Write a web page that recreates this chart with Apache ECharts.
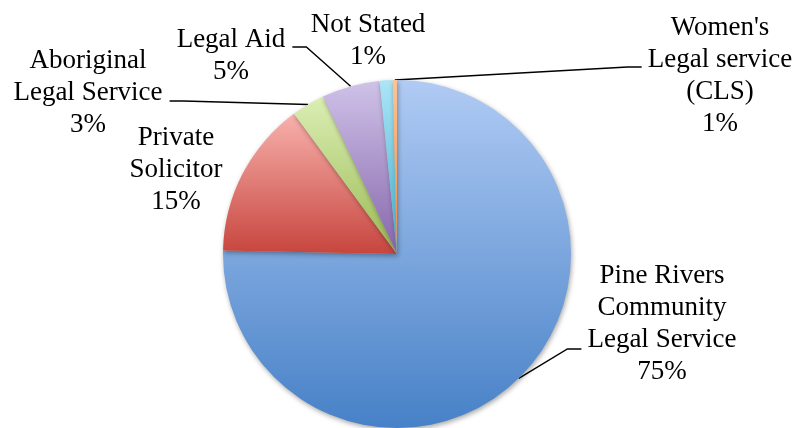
<!DOCTYPE html>
<html>
<head>
<meta charset="utf-8">
<script src="https://cdn.jsdelivr.net/npm/echarts@6/dist/echarts.min.js"></script>
<style>
html,body{margin:0;padding:0;background:#fff;}
#chart{width:800px;height:428px;}
</style>
</head>
<body>
<div id="chart"></div>
<script>
const categories = [
  'Pine Rivers\nCommunity\nLegal Service',
  'Private\nSolicitor',
  'Aboriginal\nLegal Service',
  'Legal Aid',
  'Not Stated',
  "Women's\nLegal service\n(CLS)"
];
const values = [75.4, 14.6, 3.1, 5.4, 1.2, 0.4];
const pctLabels = ['75%', '15%', '3%', '5%', '1%', '1%'];

const gradients = [
  ['#b0cbf4', '#4781c7'],
  ['#f8b1ac', '#c7453e'],
  ['#dbeeb4', '#9aba52'],
  ['#cfc2e8', '#8666ab'],
  ['#ace5f8', '#41aecb'],
  ['#fcc495', '#f2883a']
];

// label placement (annotation layout): centre x, centre y, leader end y, side
const labelPlace = [
  {x: 662, y: 324, ly: 349, side: 'left'},
  {x: 176, y: 170, ly: null},
  {x: 88, y: 93, ly: 101, side: 'right'},
  {x: 231, y: 56, ly: 47, side: 'right'},
  {x: 368, y: 41, ly: null},
  {x: 720, y: 76, ly: 67, side: 'left'}
];

const chart = echarts.init(document.getElementById('chart'), null, {renderer: 'canvas'});

const data = categories.map((c, i) => ({
  name: c,
  value: values[i],
  itemStyle: {
    color: new echarts.graphic.LinearGradient(0, 0, 0, 1, [
      {offset: 0, color: gradients[i][0]},
      {offset: 1, color: gradients[i][1]}
    ])
  },
  labelLine: {show: labelPlace[i].ly !== null}
}));

chart.setOption({
  animation: false,
  backgroundColor: '#ffffff',
  series: [{
    type: 'pie',
    center: [397, 254],
    radius: [0, 174],
    startAngle: 90,
    clockwise: true,
    avoidLabelOverlap: false,
    data: data,
    itemStyle: {
      shadowBlur: 5,
      shadowColor: 'rgba(0,0,0,0.35)',
      shadowOffsetX: 1,
      shadowOffsetY: 2
    },
    label: {
      show: true,
      position: 'outside',
      fontFamily: 'Liberation Serif',
      fontSize: 27,
      lineHeight: 32,
      color: '#000',
      align: 'center',
      formatter: p => p.name + '\n' + pctLabels[p.dataIndex]
    },
    labelLine: {
      show: true,
      length: 10,
      length2: 10,
      smooth: false,
      lineStyle: {color: '#000', width: 1.4}
    },
    emphasis: {disabled: true},
    labelLayout: function (params) {
      const pl = labelPlace[params.dataIndex];
      const out = {x: pl.x, y: pl.y, align: 'center', verticalAlign: 'middle'};
      if (pl.ly !== null && params.labelLinePoints && params.labelLinePoints.length) {
        const w = params.labelRect.width;
        const start = params.labelLinePoints[0];
        let endX, bendX;
        if (pl.side === 'left') {
          endX = pl.x - w / 2 - 6;
          bendX = endX - 14;
        } else {
          endX = pl.x + w / 2 + 7;
          bendX = endX + 14;
        }
        out.labelLinePoints = [start, [bendX, pl.ly], [endX, pl.ly]];
      }
      return out;
    }
  }]
});
</script>
</body>
</html>
